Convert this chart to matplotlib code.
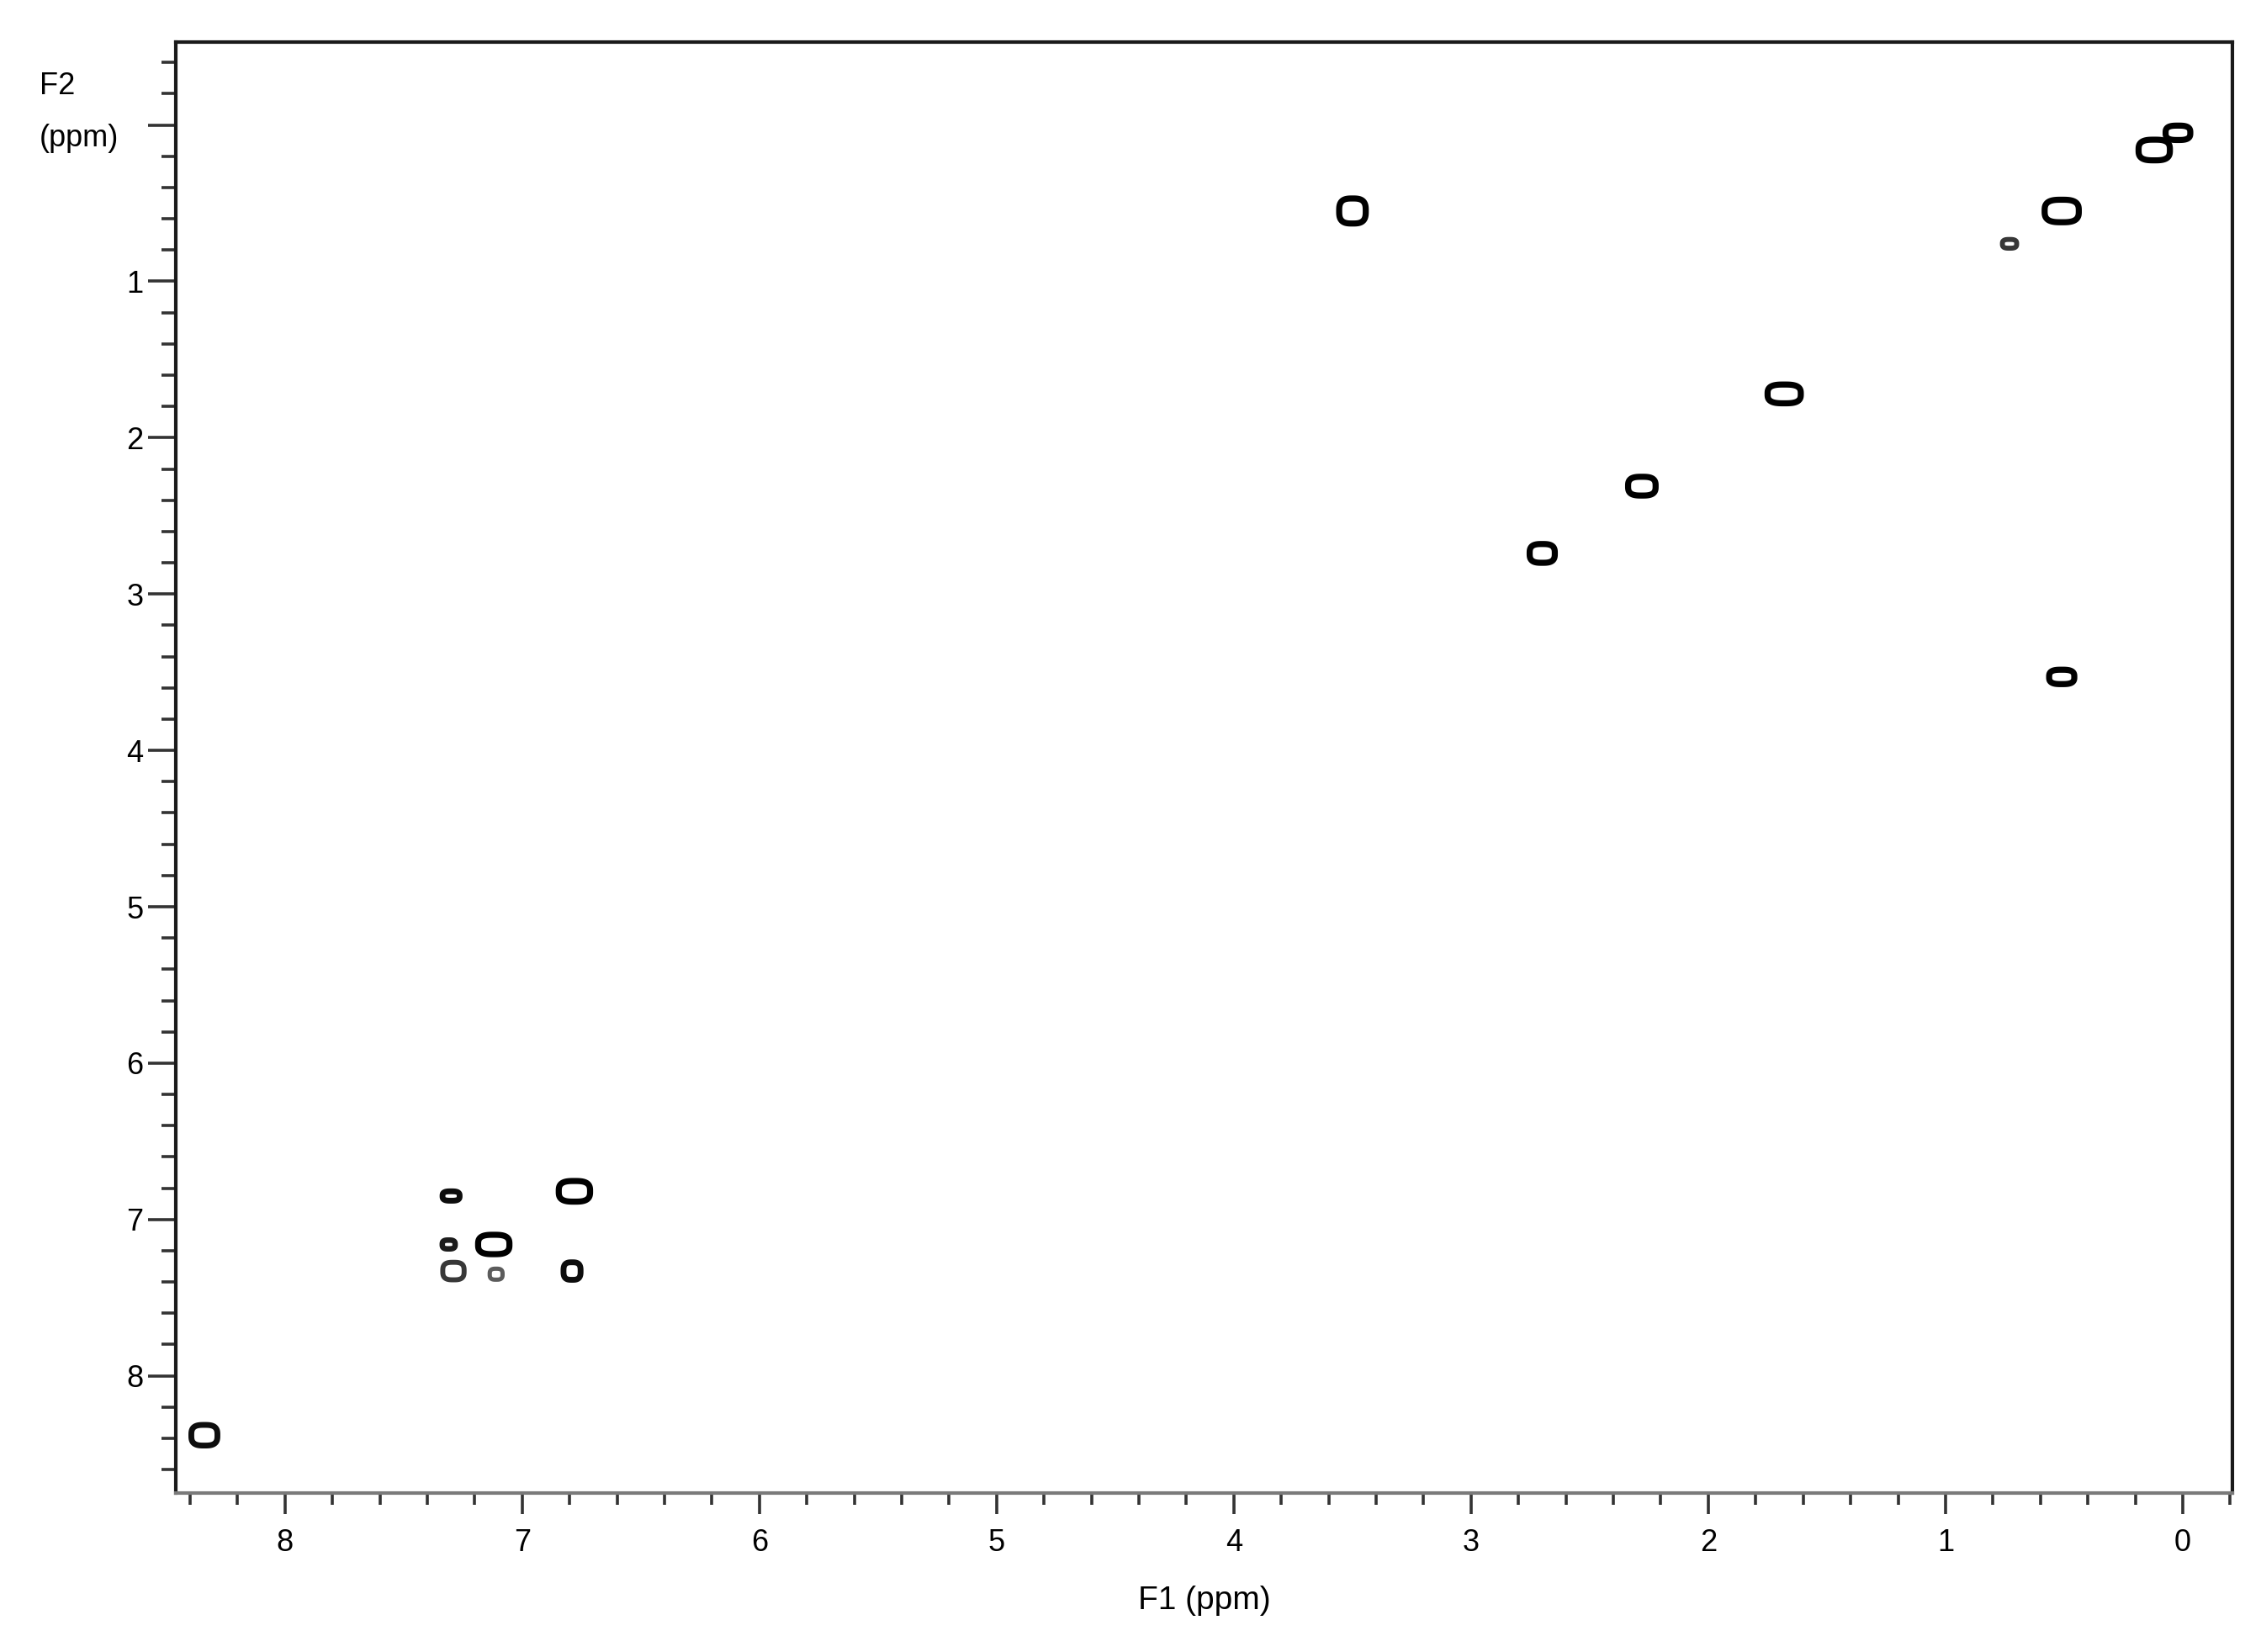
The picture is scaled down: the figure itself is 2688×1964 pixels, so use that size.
import matplotlib.pyplot as plt
import numpy as np
from matplotlib.ticker import MultipleLocator

plt.rcParams['font.family'] = ['Liberation Sans', 'DejaVu Sans']

# cross peaks (ppm)
f1_ppm = [3.50, 0.51, 0.02, 0.12, 0.73, 1.68, 2.28, 2.70, 0.51,
          6.78, 7.12, 7.30, 7.31, 7.29, 7.11, 6.79, 8.34]
f2_ppm = [0.55, 0.55, 0.05, 0.16, 0.76, 1.72, 2.31, 2.74, 3.53,
          6.82, 7.16, 6.85, 7.16, 7.33, 7.35, 7.33, 8.38]
# half size of the contour (ppm) and relative intensity
half_f1 = [0.056, 0.072, 0.052, 0.066, 0.030, 0.070, 0.058, 0.053, 0.053,
           0.066, 0.066, 0.036, 0.027, 0.045, 0.027, 0.036, 0.055]
half_f2 = [0.080, 0.072, 0.046, 0.066, 0.028, 0.060, 0.060, 0.060, 0.046,
           0.066, 0.062, 0.030, 0.028, 0.056, 0.035, 0.056, 0.066]
intensity = [1.0, 1.0, 1.0, 1.0, 0.6, 1.0, 1.0, 1.0, 1.0,
             1.0, 1.0, 0.9, 0.8, 0.6, 0.35, 0.9, 0.9]

fig = plt.figure(figsize=(13.44, 9.82), dpi=200)
ax = fig.add_axes([0.0778, 0.0962, 0.9096, 0.8783])

# one contour per peak, boxy like the original low-resolution plot
for x0, y0, hx, hy, a in zip(f1_ppm, f2_ppm, half_f1, half_f2, intensity):
    x = np.linspace(x0 - 3 * hx, x0 + 3 * hx, 200)
    y = np.linspace(y0 - 3 * hy, y0 + 3 * hy, 200)
    X, Y = np.meshgrid(x, y)
    z = np.exp(-np.log(2) * (np.abs((X - x0) / hx) ** 3 + np.abs((Y - y0) / hy) ** 3))
    shade = str(round(0.55 * (1 - a), 2))
    ax.contour(X, Y, z, levels=[0.5], colors=shade,
               linewidths=1.4 + 1.2 * a)

ax.set_xlim(8.46, -0.21)
ax.set_ylim(8.75, -0.53)

ax.xaxis.set_major_locator(MultipleLocator(1))
ax.xaxis.set_minor_locator(MultipleLocator(0.2))
ax.yaxis.set_minor_locator(MultipleLocator(0.2))
ax.set_yticks(range(0, 9))
ax.set_yticklabels([""] + [str(i) for i in range(1, 9)])

ax.tick_params(axis="both", which="major", direction="out", width=1.3,
               color="#333333", labelsize=13, pad=4)
ax.tick_params(axis="x", which="major", length=9, pad=6)
ax.tick_params(axis="y", which="major", length=12, pad=2)
ax.tick_params(axis="x", which="minor", length=5, width=1.3, color="#333333")
ax.tick_params(axis="y", which="minor", length=6, width=1.3, color="#333333")

for side in ["left", "top", "right"]:
    ax.spines[side].set_linewidth(1.5)
    ax.spines[side].set_color("#1a1a1a")
ax.spines["bottom"].set_linewidth(1.5)
ax.spines["bottom"].set_color("#7a7a7a")

ax.set_xlabel("F1 (ppm)", fontsize=14, labelpad=12)
fig.text(47 / 2688, 1 - 103 / 1964, "F2", fontsize=13, ha="left", va="center")
fig.text(47 / 2688, 1 - 164 / 1964, "(ppm)", fontsize=13, ha="left", va="center")

fig.savefig("out.png", dpi=200, facecolor="white")
